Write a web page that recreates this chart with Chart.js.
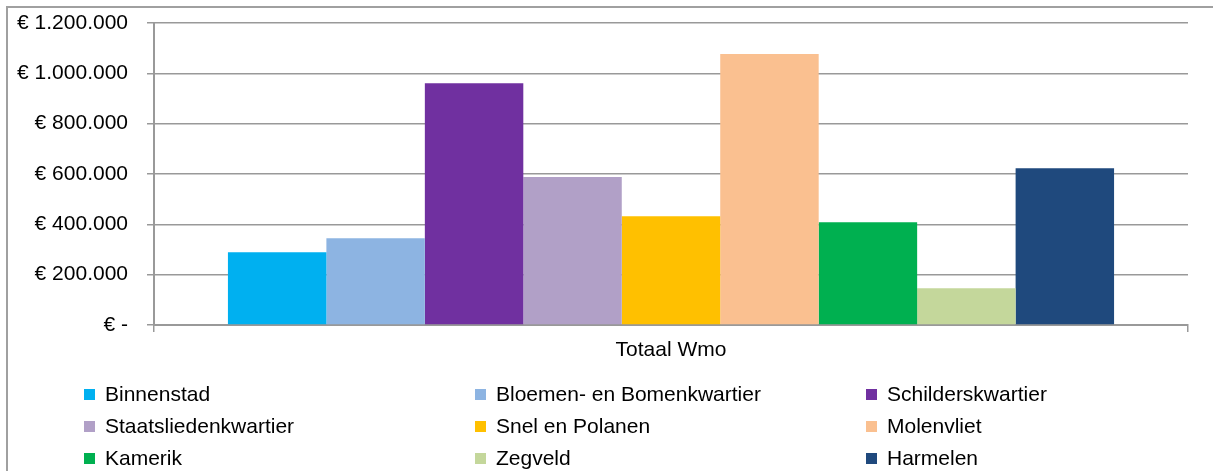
<!DOCTYPE html>
<html>
<head>
<meta charset="utf-8">
<script src="https://cdn.jsdelivr.net/npm/chart.js@4/dist/chart.umd.min.js"></script>
<style>
  html, body { margin: 0; padding: 0; background: #fff; }
  #wrap { position: relative; width: 1213px; height: 471px; }
</style>
</head>
<body>
<div id="wrap"><canvas id="c" width="1213" height="471"></canvas></div>
<script>
const categories = ['Totaal Wmo'];
const seriesNames = ['Binnenstad', 'Bloemen- en Bomenkwartier', 'Schilderskwartier',
  'Staatsliedenkwartier', 'Snel en Polanen', 'Molenvliet',
  'Kamerik', 'Zegveld', 'Harmelen'];
const seriesValues = [289000, 345000, 961000, 588000, 432000, 1077000, 408000, 146000, 623000];
const seriesColors = ['#00B0F0', '#8DB4E2', '#7030A0', '#B1A0C7', '#FFC000', '#FAC090', '#00B050', '#C4D79B', '#1F497D'];
const yTicks = [0, 200000, 400000, 600000, 800000, 1000000, 1200000];

const FONT = "'Liberation Sans', Arial, sans-serif";

function euro(v) {
  if (v === 0) return '€ -';
  return '€ ' + String(Math.round(v)).replace(/\B(?=(\d{3})+(?!\d))/g, '.');
}

const framePlugin = {
  id: 'frame',
  beforeDraw(chart) {
    const ctx = chart.ctx;
    ctx.save();
    ctx.strokeStyle = '#A0A0A0';
    ctx.lineWidth = 2;
    ctx.strokeRect(7, 7, 1400, 800);
    ctx.restore();
  }
};

const legendPlugin = {
  id: 'gridLegend',
  afterDraw(chart) {
    const ctx = chart.ctx;
    const colX = [84, 475, 866];
    const rowY = [394.5, 426.5, 458.5];
    ctx.save();
    ctx.font = '21px ' + FONT;
    ctx.textBaseline = 'middle';
    ctx.fillStyle = '#000';
    chart.data.datasets.forEach((ds, i) => {
      const col = i % 3, row = Math.floor(i / 3);
      const x = colX[col], y = rowY[row];
      ctx.fillStyle = ds.backgroundColor;
      ctx.fillRect(x, y - 5.5, 11, 11);
      ctx.fillStyle = '#000';
      ctx.fillText(ds.label, x + 21, y + 1);
    });
    ctx.restore();
  }
};

new Chart(document.getElementById('c'), {
  type: 'bar',
  data: {
    labels: categories,
    datasets: seriesNames.map((name, i) => ({
      label: name,
      data: [seriesValues[i]],
      backgroundColor: seriesColors[i],
      borderWidth: 0
    }))
  },
  options: {
    responsive: false,
    animation: false,
    layout: { padding: { top: 23, right: 25, left: 0, bottom: 0 } },
    plugins: {
      legend: { display: false },
      tooltip: { enabled: false }
    },
    datasets: {
      bar: { categoryPercentage: 0.857, barPercentage: 1.0 }
    },
    scales: {
      x: {
        offset: true,
        grid: {
          display: true,
          drawOnChartArea: false,
          drawTicks: true,
          tickLength: 7,
          color: '#999',
          lineWidth: 1.5
        },
        border: { display: true, color: '#999', width: 2 },
        ticks: {
          color: '#000',
          font: { family: FONT, size: 21 },
          padding: 6
        },
        afterFit(scale) { scale.height = 146; scale.paddingLeft = 0; scale.paddingRight = 0; }
      },
      y: {
        min: 0,
        max: 1200000,
        afterBuildTicks(scale) { scale.ticks = yTicks.map(v => ({ value: v })); },
        grid: {
          color: '#999',
          lineWidth: 1.5,
          tickLength: 7,
          drawTicks: true
        },
        border: { display: true, color: '#999', width: 2 },
        ticks: {
          color: '#000',
          font: { family: FONT, size: 21 },
          padding: 19,
          callback: (v) => euro(v)
        },
        afterFit(scale) { scale.width = 154; scale.paddingTop = 0; scale.paddingBottom = 0; }
      }
    }
  },
  plugins: [framePlugin, legendPlugin]
});
</script>
</body>
</html>
